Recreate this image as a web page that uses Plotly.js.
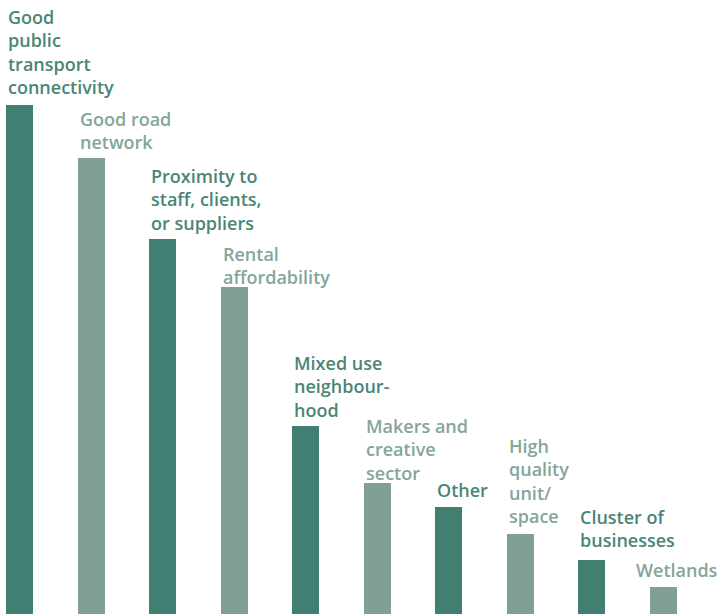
<!DOCTYPE html>
<html>
<head>
<meta charset="utf-8">
<script src="https://cdn.plot.ly/plotly-3.0.1.min.js"></script>
<style>html,body{margin:0;padding:0;background:#fff;}#chart{width:721px;height:614px;}</style>
</head>
<body>
<div id="chart"></div>
<script>
const categories = [
  "Good<br>public<br>transport<br>connectivity",
  "Good road<br>network",
  "Proximity to<br>staff, clients,<br>or suppliers",
  "Rental<br>affordability",
  "Mixed use<br>neighbour-<br>hood",
  "Makers and<br>creative<br>sector",
  "Other",
  "High<br>quality<br>unit/<br>space",
  "Cluster of<br>businesses",
  "Wetlands"
];
const values = [19, 17, 14, 12.2, 7, 4.9, 4, 3, 2, 1];

// label placement tweaks (pixels, layout only)
const labelShift = [0, -2, -2, -8, -2, -8, -1, 0, 2, -1];

const darkBar = "#407F72", lightBar = "#80A096";
const darkText = "#4A8577", lightText = "#84A59A";
const idx = categories.map((_, i) => i);
const barWidth = 0.377;

const trace = {
  type: "bar",
  x: idx,
  y: values,
  width: barWidth,
  marker: {color: idx.map(i => i % 2 === 0 ? darkBar : lightBar)},
  hoverinfo: "skip"
};

const last = categories.length - 1;
const annotations = categories.map((c, i) => {
  const a = {
    xref: "x", yref: "y",
    x: i - barWidth / 2, y: values[i],
    xanchor: "left", yanchor: "bottom",
    yshift: 4 + labelShift[i],
    align: "left",
    showarrow: false,
    text: c,
    font: {family: "'Open Sans', sans-serif", size: 18, weight: 600,
           color: i % 2 === 0 ? darkText : lightText}
  };
  if (i === last) { a.xref = "paper"; a.x = 1; a.xanchor = "right"; a.xshift = -1; }
  return a;
});

const layout = {
  width: 721, height: 614,
  margin: {l: 0, r: 0, t: 0, b: 0},
  paper_bgcolor: "#fff", plot_bgcolor: "#fff",
  showlegend: false,
  bargap: 0,
  xaxis: {range: [-0.2725, 9.803], visible: false, fixedrange: true},
  yaxis: {range: [0, 22.91], visible: false, fixedrange: true},
  annotations: annotations
};

Plotly.newPlot("chart", [trace], layout, {displayModeBar: false, staticPlot: true});
</script>
</body>
</html>
